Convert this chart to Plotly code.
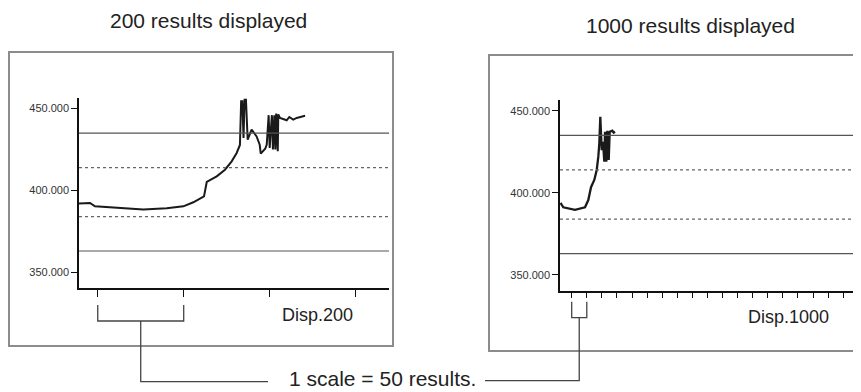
import plotly.graph_objects as go

# page body has an 8px margin, so the figure is drawn 8px in from the window corner
OFF = 8
W, H = 861 - OFF, 392 - OFF

# Left panel: 200 results displayed (x = result index, one tick = 50 results)
left_x = [-10.9, -9.7, -4.5, -1.6, 26.5, 40.1, 49.8, 55.6, 61.8, 63.4, 69.2, 74.0,
          77.9, 80.8, 82.7, 83.4, 84.1, 84.8, 85.4, 86.2, 87.2, 89.5, 92.4, 94.2,
          94.8, 97.4, 98.3, 99.4, 100.0, 100.6, 101.3, 101.9, 102.7, 103.3, 103.8,
          104.7, 105.0, 106.0, 107.9, 109.9, 111.4, 113.7, 115.7, 120.6]
left_y = [392.0, 392.0, 392.4, 390.3, 388.3, 389.1, 390.3, 392.8, 396.4, 405.2, 408.6, 412.7,
          417.8, 422.9, 427.8, 454.5, 454.5, 432.0, 455.5, 455.5, 431.0, 437.2, 433.0, 428.0,
          422.5, 425.5, 428.0, 446.0, 426.0, 436.0, 446.0, 425.0, 446.0, 425.0, 447.0,
          424.0, 446.5, 444.3, 443.7, 442.9, 444.9, 443.3, 444.3, 445.7]

# Right panel: 1000 results displayed
right_x = [-37.0, -33.2, -27.9, 10.9, 44.1, 55.0, 64.0, 74.9, 82.9, 88.2, 91.5, 94.8,
           99.5, 103.8, 108.1, 110.4, 114.7, 118.1, 122.7, 126.0, 134.6, 139.3, 143.6]
right_y = [393.8, 392.6, 391.2, 389.6, 391.2, 395.6, 403.4, 407.8, 413.9, 422.0, 430.0, 446.3,
           426.0, 431.0, 419.0, 437.2, 419.0, 437.8, 420.0, 437.2, 437.8, 436.6, 437.2]

limits_solid = [435, 363]
limits_dashed = [414, 384]
y_ticks = [350, 400, 450]
y_range = [340.4, 456.5]
scale = 50
left_ticks = [0, 50, 100, 150]
right_ticks = list(range(0, 1000, 50))
left_range = [-10.9, 169.4]
right_range = [-38.8, 959]

FONT = "Liberation Sans, Arial, sans-serif"


def px(x):
    return (x - OFF) / W


def py(y):
    return 1 - (y - OFF) / H


left_dom = [px(79), px(389)]
right_dom = [px(560), 1.0]


def data_to_px(v, rng, dom):
    return (dom[0] + (v - rng[0]) / (rng[1] - rng[0]) * (dom[1] - dom[0])) * W + OFF


fig = go.Figure()
fig.add_trace(go.Scatter(x=left_x, y=left_y, mode="lines", xaxis="x", yaxis="y",
                         line=dict(color="#1a1a1a", width=2), showlegend=False))
fig.add_trace(go.Scatter(x=right_x, y=right_y, mode="lines", xaxis="x2", yaxis="y2",
                         line=dict(color="#1a1a1a", width=2.3), showlegend=False))

axis_common = dict(showgrid=False, zeroline=False, showline=True, linecolor="#111",
                   linewidth=1.5, ticks="outside", tickcolor="#111", tickwidth=1.3)
yaxis_common = dict(axis_common, range=y_range, tickvals=y_ticks, tickformat=".3f",
                    ticklen=6, tickfont=dict(family=FONT, size=11, color="#333"))

fig.update_layout(
    width=W, height=H,
    margin=dict(l=0, r=0, t=0, b=0),
    paper_bgcolor="white", plot_bgcolor="white",
    xaxis=dict(axis_common, domain=left_dom, range=left_range, tickvals=left_ticks,
               showticklabels=False, ticklen=7, anchor="y"),
    yaxis=dict(yaxis_common, domain=[py(288), py(98)], anchor="x"),
    xaxis2=dict(axis_common, domain=right_dom, range=right_range, tickvals=right_ticks,
                showticklabels=False, ticklen=6, anchor="y2"),
    yaxis2=dict(yaxis_common, domain=[py(290.7), py(100)], anchor="x2"),
)

shapes = []
# outer boxes (the right one runs off the page edge)
shapes.append(dict(type="rect", xref="paper", yref="paper", x0=px(9), x1=px(393),
                   y0=py(346), y1=py(52), line=dict(color="#8c8c8c", width=2)))
shapes.append(dict(type="rect", xref="paper", yref="paper", x0=px(489), x1=px(880),
                   y0=py(351), y1=py(55), line=dict(color="#8c8c8c", width=2)))

# limit lines
for xr, yr in [("x", "y"), ("x2", "y2")]:
    for v in limits_solid:
        shapes.append(dict(type="line", xref=xr + " domain", yref=yr, x0=0, x1=1, y0=v, y1=v,
                           line=dict(color="#555", width=1.2)))
    for v in limits_dashed:
        shapes.append(dict(type="line", xref=xr + " domain", yref=yr, x0=0, x1=1, y0=v, y1=v,
                           line=dict(color="#666", width=1.2, dash="3px,3px")))

# scale brackets and connectors
line_style = dict(color="#444", width=1.3)
for rng, dom, top, bot, stem_end, join_x in [
        (left_range, left_dom, 305, 321, 381.7, 268),
        (right_range, right_dom, 301.7, 317.7, 380.7, 485)]:
    a = data_to_px(0, rng, dom)
    b = data_to_px(scale, rng, dom)
    c = (a + b) / 2
    shapes.append(dict(type="path", xref="paper", yref="paper", line=line_style,
                       path=f"M {px(a)},{py(top)} L {px(a)},{py(bot)} L {px(b)},{py(bot)} L {px(b)},{py(top)}"))
    shapes.append(dict(type="path", xref="paper", yref="paper", line=line_style,
                       path=f"M {px(c)},{py(bot)} L {px(c)},{py(stem_end)} L {px(join_x)},{py(stem_end)}"))

fig.update_layout(shapes=shapes)

ann = dict(xref="paper", yref="paper", showarrow=False, xanchor="center", yanchor="middle")
fig.add_annotation(ann, x=px(208), y=py(21), text="200 results displayed",
                   font=dict(family=FONT, size=21, color="#222"))
fig.add_annotation(ann, x=px(690), y=py(25), text="1000 results displayed",
                   font=dict(family=FONT, size=21, color="#222"))
fig.add_annotation(ann, x=px(317), y=py(315), text="Disp.200",
                   font=dict(family=FONT, size=18, color="#222"))
fig.add_annotation(ann, x=px(788), y=py(317), text="Disp.1000",
                   font=dict(family=FONT, size=18, color="#222"))
fig.add_annotation(ann, x=px(382.5), y=py(378), text="1 scale = 50 results.",
                   font=dict(family=FONT, size=21, color="#222"))

fig.write_html("out.html")
